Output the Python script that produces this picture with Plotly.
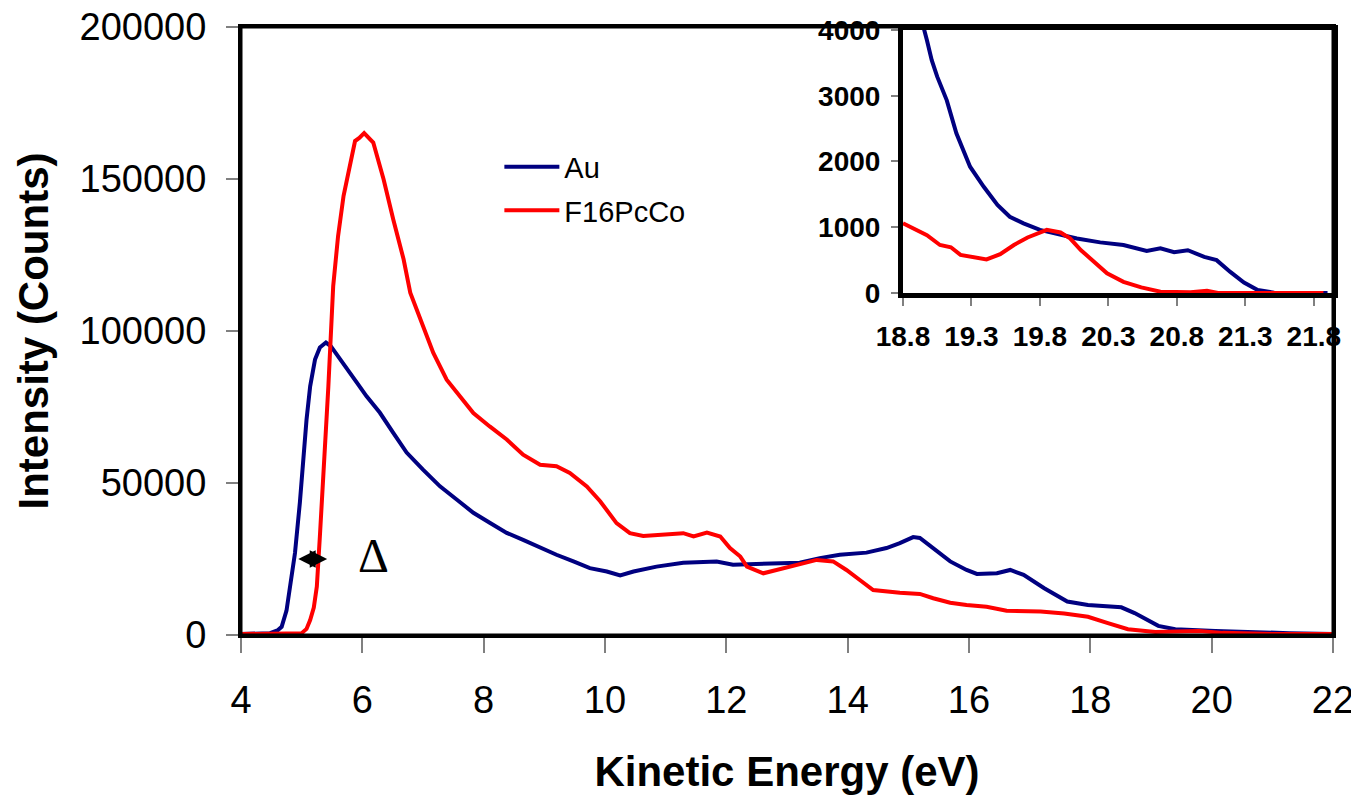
import plotly.graph_objects as go

# ---------------- data ----------------
au_x = [4.0, 4.3, 4.48, 4.6, 4.67, 4.75, 4.81, 4.89, 4.97, 5.03, 5.08, 5.14, 5.22, 5.30,
        5.40, 5.48, 5.58, 5.74, 5.91, 6.07, 6.29, 6.51, 6.73, 7.00, 7.28, 7.56, 7.83, 8.10,
        8.38, 8.65, 8.93, 9.20, 9.48, 9.75, 10.03, 10.25, 10.47, 10.85, 11.29, 11.84, 12.11,
        12.66, 13.21, 13.54, 13.87, 14.31, 14.64, 14.86, 15.08, 15.19, 15.41, 15.69, 15.96,
        16.13, 16.46, 16.68, 16.90, 17.24, 17.62, 17.96, 18.51, 18.73, 19.12, 19.40, 20.06,
        20.61, 21.28, 22.0]
au_y = [300, 300, 600, 1500, 2700, 8000, 15900, 27000, 43500, 60000, 70800, 81800, 90600, 94600,
        96200, 95000, 92300, 88000, 83000, 78500, 73100, 66500, 60000, 54400, 48900, 44500, 40200, 36900,
        33600, 31300, 28700, 26400, 24200, 22000, 20900, 19600, 20900, 22500, 23800, 24200, 23100,
        23600, 23800, 25300, 26400, 27100, 28600, 30200, 32200, 31900, 28600, 24200, 21400,
        20100, 20300, 21400, 19800, 15400, 11000, 9900, 9100, 7200, 3000, 1900, 1300,
        900, 600, 300]

pc_x = [4.0, 4.5, 4.9, 5.0, 5.08, 5.14, 5.20, 5.25, 5.30, 5.38, 5.44, 5.52, 5.60, 5.69, 5.80,
        5.88, 5.95, 6.03, 6.18, 6.35, 6.51, 6.68, 6.79, 7.00, 7.17, 7.39, 7.61, 7.83, 8.10,
        8.38, 8.65, 8.93, 9.20, 9.42, 9.70, 9.92, 10.19, 10.41, 10.63, 11.02, 11.29, 11.46,
        11.68, 11.90, 12.06, 12.23, 12.34, 12.61, 12.94, 13.21, 13.49, 13.76, 13.98, 14.20,
        14.42, 14.86, 15.19, 15.41, 15.69, 15.96, 16.29, 16.62, 17.18, 17.57, 17.96, 18.29,
        18.62, 19.07, 19.79, 20.18, 21.0, 22.0]
pc_y = [300, 300, 300, 600, 2000, 4900, 9000, 15900, 32400, 60000, 81800, 114800, 131200, 144400, 155400,
        162500, 163500, 165100, 162000, 149900, 136700, 123600, 112600, 101600, 92800, 84000, 78500, 73000, 68600,
        64300, 59300, 56000, 55500, 53300, 48900, 44000, 36800, 33500, 32600, 33000, 33500, 32400,
        33700, 32400, 28600, 25800, 22500, 20300, 22000, 23400, 24700, 24200, 21400, 18100,
        14800, 13900, 13500, 12100, 10600, 9900, 9300, 8000, 7700, 7100, 6000, 3900,
        1900, 1000, 1300, 700, 300, 300]

# inset (zoom on the high-energy cut-off)
au_in_x = [18.85, 18.94, 18.975, 19.01, 19.05, 19.12, 19.19, 19.29, 19.39, 19.49, 19.58, 19.68,
           19.80, 19.95, 20.07, 20.24, 20.41, 20.58, 20.68, 20.78, 20.88, 21.00, 21.09, 21.19,
           21.29, 21.39, 21.51, 21.90]
au_in_y = [5200, 4120, 3845, 3540, 3290, 2930, 2430, 1920, 1615, 1340, 1160, 1060,
           960, 880, 830, 770, 730, 640, 680, 620, 650, 550, 500, 320,
           160, 45, 5, 0]
pc_in_x = [18.80, 18.88, 18.975, 19.07, 19.15, 19.22, 19.31, 19.41, 19.51, 19.61, 19.71, 19.80,
           19.85, 19.95, 20.02, 20.10, 20.19, 20.29, 20.41, 20.54, 20.68, 20.90, 21.02, 21.10, 21.87]
pc_in_y = [1060, 985, 880, 730, 695, 580, 540, 510, 590, 730, 845, 910,
           960, 920, 830, 650, 475, 300, 170, 85, 20, 10, 35, 0, 0]

# Δ (work-function shift) marker
delta_x = [4.92, 5.42]
delta_y = 25000
delta_label_x = 6.18
delta_label_y = 26000

NAVY = "#000080"
RED = "#FF0000"
FONT = "Arial, Liberation Sans, sans-serif"

fig = go.Figure()
fig.add_trace(go.Scatter(x=au_x, y=au_y, mode="lines", name="Au", legendgroup="au",
                         line=dict(color=NAVY, width=4), xaxis="x", yaxis="y"))
fig.add_trace(go.Scatter(x=pc_x, y=pc_y, mode="lines", name="F16PcCo", legendgroup="pc",
                         line=dict(color=RED, width=4), xaxis="x", yaxis="y"))
fig.add_trace(go.Scatter(x=au_in_x, y=au_in_y, mode="lines", showlegend=False,
                         line=dict(color=NAVY, width=4), xaxis="x2", yaxis="y2"))
fig.add_trace(go.Scatter(x=pc_in_x, y=pc_in_y, mode="lines", showlegend=False,
                         line=dict(color=RED, width=4), xaxis="x2", yaxis="y2"))

fig.add_annotation(x=delta_x[1], y=delta_y, ax=delta_x[0], ay=delta_y,
                   xref="x", yref="y", axref="x", ayref="y", text="",
                   showarrow=True, arrowhead=2, startarrowhead=2, arrowside="end+start",
                   arrowwidth=2.4, arrowsize=1.45, startarrowsize=1.45, arrowcolor="black")
fig.add_annotation(x=delta_label_x, y=delta_label_y, xref="x", yref="y", text="Δ",
                   showarrow=False, font=dict(family="Liberation Serif, Times New Roman, serif",
                                               size=48, color="black"))

# frame around the main plot area
fig.add_shape(type="rect", xref="x domain", yref="y domain", x0=0, x1=1, y0=0, y1=1,
              line=dict(color="black", width=3), fillcolor="rgba(0,0,0,0)", layer="above")

# the page body adds an 8 px offset, so the figure is 8 px smaller and margins shifted
fig.update_layout(
    width=1351, height=791,
    margin=dict(l=233, r=26, t=19, b=164),
    paper_bgcolor="white", plot_bgcolor="white",
    font=dict(family=FONT, color="black"),
    legend=dict(x=0.2366, y=0.812, xanchor="left", yanchor="top", traceorder="grouped",
                bgcolor="rgba(0,0,0,0)", font=dict(size=29, color="black"),
                tracegroupgap=3, itemwidth=55),
    xaxis=dict(domain=[0, 1], range=[4, 22], dtick=2, tick0=4, automargin=False,
               showline=True, linewidth=3, linecolor="black", mirror=True,
               ticks="outside", ticklen=15, tickwidth=2, tickcolor="#808080",
               ticklabelstandoff=14, ticklabeloverflow="allow", tickfont=dict(size=38),
               showgrid=False, zeroline=False,
               title=dict(text="<b>Kinetic Energy (eV)</b>", font=dict(size=42), standoff=38)),
    yaxis=dict(domain=[0, 1], range=[0, 200000], dtick=50000, tickformat="d", automargin=False,
               showline=True, linewidth=3, linecolor="black", mirror=True,
               ticks="outside", ticklen=12, tickwidth=2, tickcolor="#808080",
               ticklabelstandoff=12, ticklabeloverflow="allow", tickfont=dict(size=38),
               showgrid=False, zeroline=False,
               title=dict(text="<b>Intensity (Counts)</b>", font=dict(size=42), standoff=18)),
    xaxis2=dict(domain=[0.6062, 1.0], range=[18.8, 21.94], tick0=18.8, dtick=0.5,
                tickformat=".1f", anchor="y2", automargin=False,
                showline=True, linewidth=5, linecolor="black", mirror=True,
                ticks="outside", ticklen=8, tickwidth=2, tickcolor="#808080",
                ticklabelstandoff=6, ticklabeloverflow="allow", tickfont=dict(size=28, family=FONT),
                tickprefix="<b>", ticksuffix="</b>",
                showgrid=False, zeroline=False),
    yaxis2=dict(domain=[0.5625, 0.9951], range=[0, 4000], dtick=1000, anchor="x2", automargin=False,
                showline=True, linewidth=5, linecolor="black", mirror=True,
                ticks="outside", ticklen=7, tickwidth=2, tickcolor="#808080",
                ticklabelstandoff=5, ticklabeloverflow="allow", tickfont=dict(size=28, family=FONT),
                tickprefix="<b>", ticksuffix="</b>",
                showgrid=False, zeroline=False),
)

fig.write_html("out.html")
